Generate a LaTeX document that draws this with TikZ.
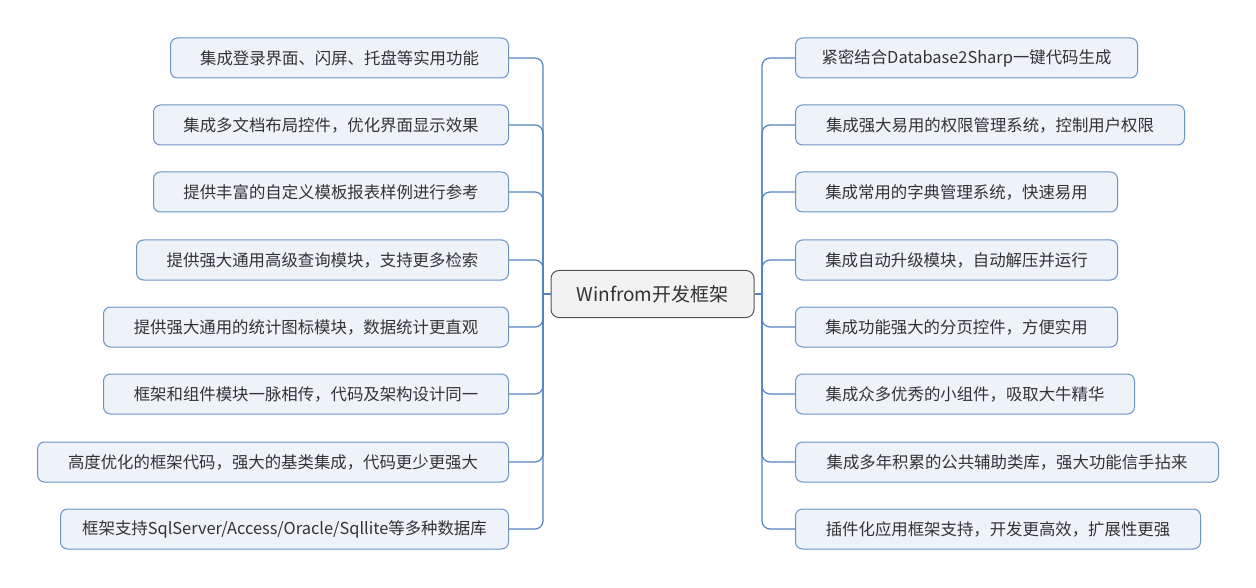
\documentclass[tikz,border=0pt]{standalone}
\usepackage{fontspec}
\setmainfont{Noto Sans CJK SC}
\usetikzlibrary{calc}
\definecolor{boxfill}{HTML}{EEF3FA}
\definecolor{boxline}{HTML}{6A94C6}
\definecolor{connc}{HTML}{5282C2}
\definecolor{txt}{HTML}{333333}
\definecolor{cfill}{HTML}{F2F2F2}
\definecolor{cline}{HTML}{555555}
\begin{document}
\begin{tikzpicture}[x=1pt,y=-1pt,
  leaf/.style={draw=boxline, line width=1pt, fill=boxfill, rounded corners=7pt,
    minimum height=40pt, inner sep=0pt, text=txt, font=\fontsize{16.4}{19}\selectfont},
  lleaf/.style={leaf, anchor=east, minimum width=#1},
  rleaf/.style={leaf, anchor=west, minimum width=#1},
  centre/.style={draw=cline, line width=1pt, fill=cfill, rounded corners=8pt,
    minimum width=203pt, minimum height=47pt, inner sep=0pt, text=txt,
    font=\fontsize{19}{22}\selectfont},
  conn/.style={draw=connc, line width=1.2pt, rounded corners=8pt}]
\useasboundingbox (0,0) rectangle (1256,588);
\node[centre] (c) at (652.5,294) {Winfrom开发框架};
\coordinate (lj) at (543,294);
\coordinate (rj) at (762,294);
% left
\node[lleaf=338pt] (L1) at (509,58)  {集成登录界面、闪屏、托盘等实用功能};
\node[lleaf=355pt] (L2) at (509,125) {集成多文档布局控件，优化界面显示效果};
\node[lleaf=355pt] (L3) at (509,192) {提供丰富的自定义模板报表样例进行参考};
\node[lleaf=372pt] (L4) at (509,260) {提供强大通用高级查询模块，支持更多检索};
\node[lleaf=405pt] (L5) at (509,327) {提供强大通用的统计图标模块，数据统计更直观};
\node[lleaf=405pt] (L6) at (509,394) {框架和组件模块一脉相传，代码及架构设计同一};
\node[lleaf=471pt] (L7) at (509,462) {高度优化的框架代码，强大的基类集成，代码更少更强大};
\node[lleaf=448pt] (L8) at (509,529) {框架支持SqlServer/Access/Oracle/Sqllite等多种数据库};
% right
\node[rleaf=342pt] (R1) at (795,58)  {紧密结合Database2Sharp一键代码生成};
\node[rleaf=389pt] (R2) at (795,125) {集成强大易用的权限管理系统，控制用户权限};
\node[rleaf=322pt] (R3) at (795,192) {集成常用的字典管理系统，快速易用};
\node[rleaf=322pt] (R4) at (795,260) {集成自动升级模块，自动解压并运行};
\node[rleaf=322pt] (R5) at (795,327) {集成功能强大的分页控件，方便实用};
\node[rleaf=339pt] (R6) at (795,394) {集成众多优秀的小组件，吸取大牛精华};
\node[rleaf=423pt] (R7) at (795,462) {集成多年积累的公共辅助类库，强大功能信手拈来};
\node[rleaf=405pt] (R8) at (795,529) {插件化应用框架支持，开发更高效，扩展性更强};
% connectors
\draw[conn] (c.west) -- (lj);
\draw[conn] (c.east) -- (rj);
\foreach \n in {L1,L2,L3,L4,L5,L6,L7,L8}{\draw[conn] (lj) |- (\n.east);}
\foreach \n in {R1,R2,R3,R4,R5,R6,R7,R8}{\draw[conn] (rj) |- (\n.west);}
\end{tikzpicture}
\end{document}
